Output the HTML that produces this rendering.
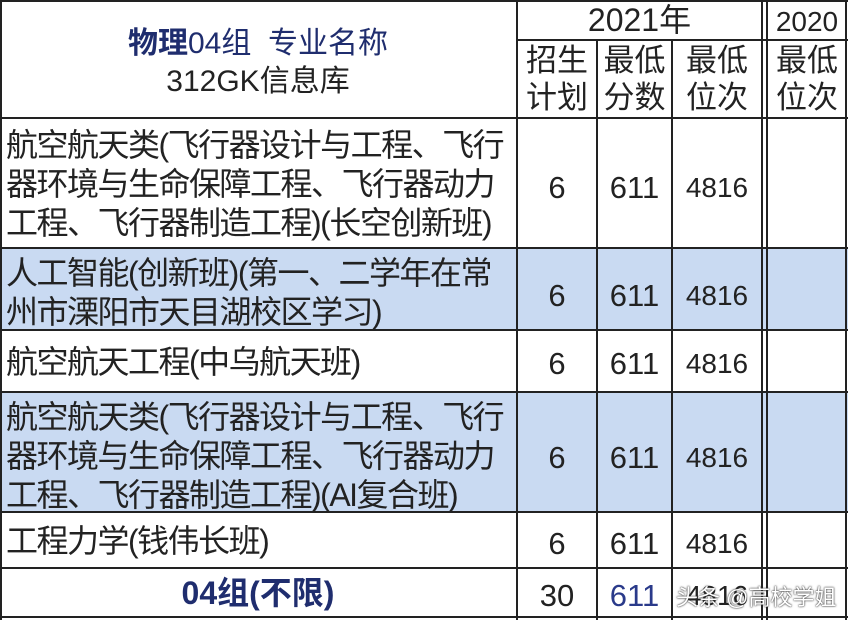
<!DOCTYPE html>
<html><head><meta charset="utf-8"><style>
body{margin:0;width:848px;height:620px;overflow:hidden;background:#fff;font-family:"Liberation Sans","Noto Sans CJK SC",sans-serif;color:#222;position:relative}
.b{position:absolute;background:#c9daf2}
.h{position:absolute;height:2px;background:#222}
.v{position:absolute;width:2px;background:#222}
.t{position:absolute;font-size:32px;letter-spacing:-1.5px;line-height:39px;white-space:nowrap}
.c{position:absolute;text-align:center;font-size:31px;line-height:36px}
</style></head><body>
<div class="b" style="left:0;top:249px;width:848px;height:81px"></div>
<div class="b" style="left:0;top:393px;width:848px;height:119px"></div>
<div class="h" style="left:0;top:0;width:848px"></div>
<div class="h" style="left:518px;top:39px;width:330px"></div>
<div class="h" style="left:0;top:117px;width:848px"></div>
<div class="h" style="left:0;top:247px;width:848px"></div>
<div class="h" style="left:0;top:329px;width:848px"></div>
<div class="h" style="left:0;top:391px;width:848px"></div>
<div class="h" style="left:0;top:511px;width:848px"></div>
<div class="h" style="left:0;top:567px;width:848px"></div>
<div class="h" style="left:0;top:616px;width:848px"></div>
<div class="v" style="left:0;top:0;height:620px"></div>
<div class="v" style="left:516px;top:0;height:620px"></div>
<div class="v" style="left:596px;top:39px;height:581px"></div>
<div class="v" style="left:671px;top:39px;height:581px"></div>
<div class="v" style="left:761px;top:0;height:620px"></div>
<div class="v" style="left:766px;top:0;height:620px"></div>
<div class="v" style="left:845px;top:0;height:620px"></div>

<div class="c" style="left:0;width:516px;top:26px;font-size:30px;color:#1f2d6e"><b>物理</b>04组&nbsp; 专业名称</div>
<div class="c" style="left:0;width:516px;top:64px;font-size:30px">312GK信息库</div>
<div class="c" style="left:518px;width:243px;top:2px;font-size:32px">2021年</div>
<div class="c" style="left:768px;width:78px;top:4px;font-size:28px">2020</div>
<div class="c" style="left:518px;width:78px;top:42px;line-height:37px">招生<br>计划</div>
<div class="c" style="left:598px;width:73px;top:42px;line-height:37px">最低<br>分数</div>
<div class="c" style="left:673px;width:88px;top:42px;line-height:37px">最低<br>位次</div>
<div class="c" style="left:768px;width:78px;top:42px;line-height:37px">最低<br>位次</div>

<div class="t" style="left:6px;top:126px">航空航天类(飞行器设计与工程、飞行<br>器环境与生命保障工程、飞行器动力<br>工程、飞行器制造工程)(长空创新班)</div>
<div class="t" style="left:6px;top:254px">人工智能(创新班)(第一、二学年在常<br>州市溧阳市天目湖校区学习)</div>
<div class="t" style="left:6px;top:343px">航空航天工程(中乌航天班)</div>
<div class="t" style="left:6px;top:398px">航空航天类(飞行器设计与工程、飞行<br>器环境与生命保障工程、飞行器动力<br>工程、飞行器制造工程)(AI复合班)</div>
<div class="t" style="left:6px;top:522px">工程力学(钱伟长班)</div>
<div class="c" style="left:0;width:516px;top:575px;font-size:32px;color:#1f2d6e;font-weight:bold">04组(不限)</div>

<div class="c" style="left:518px;width:78px;top:170px">6</div><div class="c" style="left:598px;width:73px;top:170px">611</div><div class="c" style="left:673px;width:88px;top:170px;font-size:28px">4816</div>
<div class="c" style="left:518px;width:78px;top:278px">6</div><div class="c" style="left:598px;width:73px;top:278px">611</div><div class="c" style="left:673px;width:88px;top:278px;font-size:28px">4816</div>
<div class="c" style="left:518px;width:78px;top:346px">6</div><div class="c" style="left:598px;width:73px;top:346px">611</div><div class="c" style="left:673px;width:88px;top:346px;font-size:28px">4816</div>
<div class="c" style="left:518px;width:78px;top:440px">6</div><div class="c" style="left:598px;width:73px;top:440px">611</div><div class="c" style="left:673px;width:88px;top:440px;font-size:28px">4816</div>
<div class="c" style="left:518px;width:78px;top:526px">6</div><div class="c" style="left:598px;width:73px;top:526px">611</div><div class="c" style="left:673px;width:88px;top:526px;font-size:28px">4816</div>
<div class="c" style="left:518px;width:78px;top:578px">30</div><div class="c" style="left:598px;width:73px;top:578px;color:#2a3a8a">611</div><div class="c" style="left:673px;width:88px;top:578px;font-size:28px">4816</div>
<div style="position:absolute;left:676px;top:580px;font-size:22px;color:#fff;text-shadow:0 0 2px #333,0 0 1px #333">头条 @高校学姐</div>
</body></html>
